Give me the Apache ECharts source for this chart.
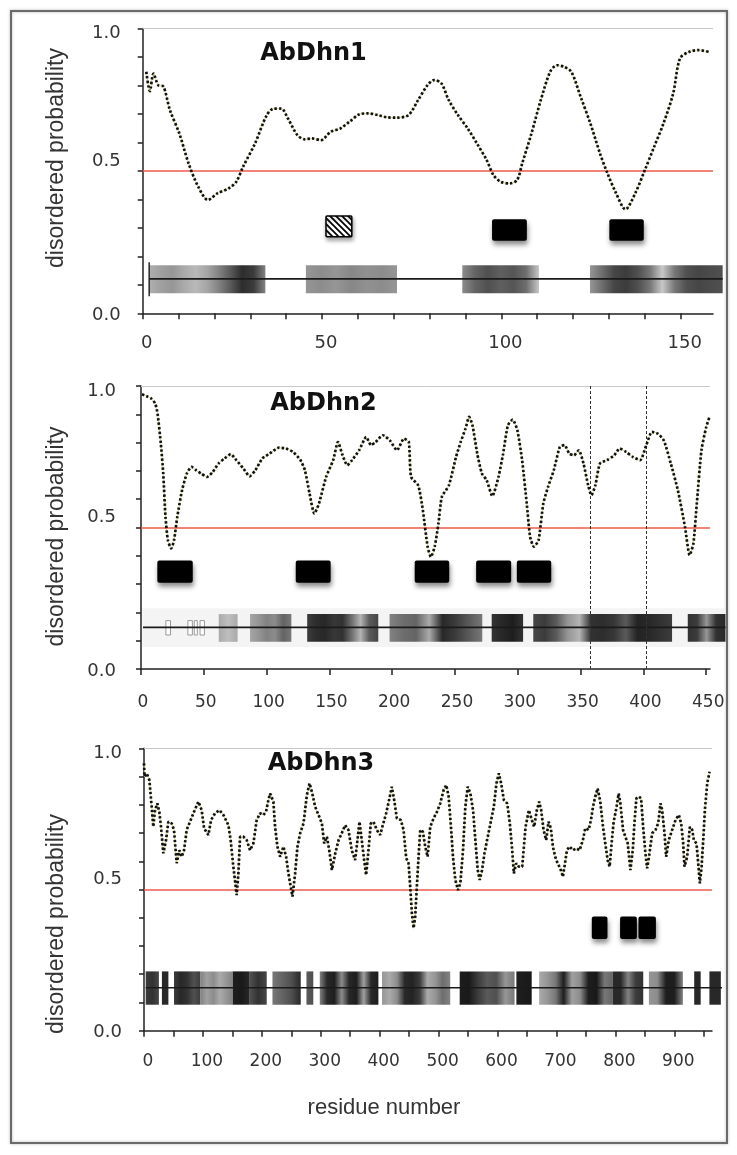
<!DOCTYPE html>
<html><head><meta charset="utf-8">
<script src="https://cdn.jsdelivr.net/npm/echarts@6/dist/echarts.min.js"></script>
<style>html,body{margin:0;padding:0;background:#fff}#c{width:737px;height:1155px}</style>
</head><body><div id="c"></div>
<script>
// ---------------- DATA ----------------
const titles = ['AbDhn1', 'AbDhn2', 'AbDhn3'];
const yTitle = 'disordered probability';
const xTitle = 'residue number';
const threshold = 0.5;

const yTicks = [0, 0.1, 0.2, 0.3, 0.4, 0.5, 0.6, 0.7, 0.8, 0.9, 1.0];
const yLabels = [0, 0.5, 1.0];
const p1XTicks = [0, 10, 20, 30, 40, 50, 60, 70, 80, 90, 100, 110, 120, 130, 140, 150];
const p1XLabels = [0, 50, 100, 150];
const p2XTicks = [0, 50, 100, 150, 200, 250, 300, 350, 400, 450];
const p2XLabels = [0, 50, 100, 150, 200, 250, 300, 350, 400, 450];
const p3XTicks = [0, 50, 100, 150, 200, 250, 300, 350, 400, 450, 500, 550, 600, 650, 700, 750, 800, 850, 900, 950];
const p3XLabels = [0, 100, 200, 300, 400, 500, 600, 700, 800, 900];
const xMax = [159, 453, 964];

const p1Curve = [[1.0,0.848],[2.0,0.78],[3.0,0.842],[4.4,0.80],[5.7,0.797],[7.6,0.713],[10.2,0.632],[12.8,0.526],[15.5,0.444],[18.2,0.398],[20.8,0.421],[24.0,0.439],[26.1,0.462],[28.0,0.515],[31.3,0.596],[34.6,0.696],[36.6,0.719],[38.6,0.719],[40.5,0.684],[43.1,0.626],[45.2,0.611],[47.1,0.614],[49.7,0.608],[52.4,0.637],[55.1,0.649],[57.7,0.673],[60.3,0.698],[62.9,0.702],[65.6,0.696],[68.2,0.688],[70.8,0.687],[74.1,0.696],[76.8,0.749],[79.4,0.801],[81.3,0.819],[83.3,0.807],[85.3,0.749],[87.9,0.696],[90.6,0.649],[93.2,0.596],[95.9,0.538],[97.8,0.485],[99.8,0.462],[102.4,0.456],[104.4,0.468],[105.8,0.526],[108.4,0.632],[111.0,0.749],[113.6,0.848],[115.5,0.871],[117.5,0.865],[119.5,0.848],[122.1,0.760],[124.8,0.667],[127.5,0.561],[129.4,0.497],[132.0,0.421],[134.6,0.365],[137.3,0.421],[140.0,0.503],[142.6,0.585],[145.2,0.667],[147.9,0.772],[149.8,0.895],[152.4,0.918],[155.0,0.924],[157.8,0.918]];

const p2Curve = [[0.8,0.971],[4.5,0.964],[8.3,0.955],[11.3,0.938],[13.2,0.902],[15.8,0.796],[17.7,0.691],[19.5,0.538],[21.4,0.455],[24,0.426],[26.3,0.455],[28.9,0.538],[32.7,0.632],[36.5,0.691],[40.2,0.714],[44,0.702],[47.7,0.691],[52.6,0.679],[57.1,0.696],[61.7,0.726],[66.5,0.744],[71.4,0.759],[75.9,0.738],[81.6,0.708],[86.5,0.681],[91,0.702],[96.6,0.744],[102.3,0.761],[109.8,0.782],[115.4,0.779],[121,0.767],[126.7,0.740],[130.5,0.702],[134.2,0.620],[138,0.549],[141.7,0.585],[147.4,0.679],[153,0.738],[156.8,0.802],[160.5,0.755],[164.3,0.720],[168,0.738],[173.7,0.773],[179.3,0.820],[183.1,0.791],[186.8,0.802],[192.5,0.826],[198.1,0.808],[203.8,0.773],[209.4,0.814],[213.2,0.802],[215,0.679],[220.7,0.649],[224.4,0.561],[228.2,0.432],[230.8,0.396],[233.8,0.432],[236.8,0.514],[239.5,0.608],[245.1,0.649],[250.8,0.749],[254.5,0.802],[258.3,0.849],[261.3,0.891],[263.9,0.861],[267.7,0.761],[271.4,0.691],[275.2,0.667],[279.7,0.611],[284.6,0.679],[288.3,0.761],[292.1,0.861],[295.9,0.881],[299.6,0.844],[303.4,0.738],[307.1,0.585],[309.8,0.467],[312.8,0.432],[316.5,0.455],[320.3,0.585],[324.1,0.644],[328.6,0.702],[333.5,0.785],[337.2,0.791],[341,0.761],[344.7,0.755],[348.5,0.773],[352.3,0.726],[356,0.649],[358.6,0.614],[361.7,0.649],[365.4,0.726],[371,0.738],[376.7,0.755],[381.2,0.779],[386.1,0.767],[391.7,0.749],[397.4,0.738],[402.3,0.791],[406.8,0.838],[411.3,0.832],[416.2,0.808],[421.8,0.726],[427.4,0.632],[433.1,0.502],[436.8,0.402],[439.8,0.444],[442.5,0.585],[446.2,0.773],[450,0.855],[452.6,0.891]];

const p3Curve = [[0,0.947],[1,0.90],[4.5,0.911],[9.1,0.888],[13,0.793],[15.8,0.722],[18.7,0.781],[22.6,0.805],[26,0.775],[28.9,0.722],[32.8,0.628],[37.4,0.675],[41.3,0.740],[47,0.734],[50.9,0.711],[55.5,0.593],[60,0.639],[64,0.616],[68,0.639],[72.4,0.711],[78.1,0.740],[84.9,0.775],[92.3,0.811],[97.9,0.781],[101.9,0.717],[109.3,0.693],[113.8,0.746],[120.6,0.770],[128,0.781],[134.7,0.764],[143.2,0.728],[147.1,0.675],[151.6,0.581],[155,0.522],[157.3,0.480],[160.2,0.557],[163,0.687],[168.6,0.687],[174.3,0.675],[180,0.639],[185.6,0.663],[191.3,0.746],[197,0.770],[202.6,0.764],[207.1,0.775],[211.1,0.817],[214,0.840],[219.6,0.811],[222.5,0.722],[226.4,0.652],[231,0.616],[236.6,0.652],[241.2,0.616],[245.1,0.557],[249,0.510],[252,0.475],[256.5,0.557],[260.5,0.652],[265,0.699],[270.7,0.734],[276.4,0.834],[280.9,0.876],[284.9,0.846],[290.5,0.793],[296.2,0.764],[301.9,0.734],[305.8,0.663],[310.4,0.687],[314.4,0.639],[318.9,0.569],[324.6,0.628],[330.2,0.675],[335.6,0.699],[341.3,0.728],[347,0.711],[352.6,0.639],[358.3,0.604],[362.3,0.675],[365.7,0.740],[369.6,0.675],[373.6,0.604],[377,0.551],[381,0.639],[384.9,0.734],[389.5,0.740],[395.1,0.711],[400.8,0.693],[405.3,0.728],[411,0.770],[416.6,0.823],[420.6,0.864],[424.6,0.817],[429.1,0.752],[435.9,0.746],[440.5,0.711],[445,0.611],[449,0.593],[451.8,0.510],[454.6,0.416],[457.5,0.363],[460.3,0.404],[463.1,0.510],[466,0.616],[468.8,0.711],[473.3,0.705],[477.3,0.652],[481.3,0.616],[485.8,0.722],[491.5,0.752],[497.2,0.775],[502.8,0.805],[508.5,0.852],[513,0.870],[517,0.829],[521,0.722],[524.4,0.616],[528.4,0.534],[532.9,0.498],[536.9,0.522],[541.4,0.639],[545.4,0.793],[549.4,0.864],[553.9,0.840],[558.5,0.781],[562.4,0.675],[566.4,0.569],[569.8,0.534],[573.8,0.569],[577.8,0.628],[582.3,0.675],[588,0.734],[593.7,0.793],[598.2,0.876],[602.2,0.911],[606.2,0.876],[610.7,0.817],[616.4,0.805],[620.9,0.734],[624.9,0.639],[627.7,0.557],[631.7,0.593],[636.2,0.581],[641.9,0.581],[647.6,0.722],[653.2,0.781],[658.2,0.746],[662.2,0.722],[666.7,0.781],[670.7,0.811],[674.1,0.781],[678.1,0.711],[682.6,0.675],[686.6,0.740],[690.5,0.717],[693.9,0.652],[697.9,0.616],[701.9,0.593],[706.4,0.575],[711,0.545],[713.8,0.540],[717.8,0.639],[722.3,0.652],[728,0.639],[733.6,0.646],[739.3,0.639],[744.9,0.675],[748.9,0.717],[754.6,0.711],[758.6,0.746],[762,0.793],[765.9,0.829],[769.9,0.858],[774.4,0.811],[779,0.722],[782.9,0.663],[786.9,0.604],[790.3,0.581],[793.1,0.652],[797.1,0.740],[801.6,0.787],[805.6,0.840],[808.5,0.805],[813,0.711],[817,0.687],[821,0.663],[825.5,0.569],[829.5,0.639],[832.3,0.734],[835.7,0.823],[839.7,0.829],[843.7,0.823],[847.1,0.722],[851,0.628],[853.9,0.575],[857.9,0.628],[862.4,0.699],[868.1,0.711],[872.6,0.734],[876.6,0.805],[879.4,0.781],[883.4,0.699],[886.2,0.616],[890.7,0.675],[896.4,0.711],[902.1,0.746],[907.7,0.764],[911.7,0.734],[915.1,0.663],[917.3,0.581],[921.9,0.616],[926.4,0.722],[930.4,0.711],[933.2,0.675],[937.7,0.663],[940.6,0.593],[943.4,0.522],[946.3,0.581],[949.1,0.675],[951.9,0.781],[955.9,0.876],[959.9,0.917]];

// domain boxes [start, end] in residues; vertical range in probability units
const p1Hatched = [[51.1, 58.3]];
const p1HatchedRange = [0.269, 0.342];
const p1Domains = [[97.4, 107.1], [130.1, 139.7]];
const p1DomainRange = [0.255, 0.330];
const p2Domains = [[13, 41.2], [123.2, 151], [217.9, 245.4], [266.8, 294.7], [299.2, 326.6]];
const p2DomainRange = [0.305, 0.383];
const p3Domains = [[760, 786.6], [808, 836.5], [839.2, 868.8]];
const p3DomainRange = [0.325, 0.404];

// grey-scale profile bands: [start, end, grey levels across the segment]
const p1Band = [0.070, 0.169, 0.121];
const p1Track = [[1.8, 161.7]];
const p1Segments = [
  [1.8, 34.2, [175,160,150,170,185,165,130,90,45,60,130]],
  [45.5, 70.9, [150,140,150,135,145,140,150]],
  [89.1, 110.5, [140,100,80,95,85,110,200]],
  [124.7, 161.7, [150,110,70,60,80,120,200,120,80,70,75,80]]
];
const p2Band = [0.096, 0.194, 0.147];
const p2BandBack = [[1, 465]];
const p2BandBackRange = [0.078, 0.215];
const p2Track = [[1.6, 465.3]];
const p2Hollow = [[19.8, 23.5], [37.3, 40.9], [42.4, 44.8], [47, 50.5]];
const p2HollowRange = [0.120, 0.171];
const p2Segments = [
  [61.9, 76.9, [170,190,170]],
  [86.8, 119.7, [165,150,130,140,100,120]],
  [132.3, 188.9, [60,45,40,55,50,110,180,90,70]],
  [197.9, 271.7, [130,110,100,170,40,60,90,120]],
  [279.2, 304.2, [50,40,30,50]],
  [312.3, 422.8, [70,60,90,150,180,50,45,55,90,35,40,50,60]],
  [435.3, 465.3, [50,60,150,50,40]]
];
const p2Marks = [357.5, 402];
const p3Band = [0.092, 0.210, 0.152];
const p3Track = [[2.9, 981]];
const p3Segments = [
  [2.9, 25.3, [60,50,70]],
  [30.4, 41.4, [40,40]],
  [50.9, 95.9, [60,40,50,80,60]],
  [95.9, 150.6, [130,160,140,170,150,130]],
  [150.6, 179.5, [30,25,40]],
  [179.5, 208.3, [80,50,70]],
  [218, 266, [120,100,80,40]],
  [275.7, 287.3, [90,80]],
  [298.3, 397.8, [130,40,30,140,40,30,160,40,30]],
  [404, 519.7, [150,170,140,40,35,60,170,150,110,130]],
  [535.8, 628.9, [30,25,60,90,80,150,120]],
  [632, 658, [30,25]],
  [670.6, 795.9, [170,150,120,30,160,140,30,25,120,100]],
  [796, 847.3, [40,40,130,60,50]],
  [856.9, 914.6, [150,140,30,30,130]],
  [933.8, 944.8, [40]],
  [959.6, 979, [40,40]]
];

// ---------------- RENDER ----------------
const grids = [
  {left: 142.7, top: 28.5, width: 570.3, height: 284.8},
  {left: 141, top: 386, width: 569, height: 283},
  {left: 144, top: 748.3, width: 568, height: 282.4}
];

const hatchCanvas = (function () {
  const c = document.createElement('canvas'); c.width = 6; c.height = 6;
  const g = c.getContext('2d');
  g.fillStyle = '#fff'; g.fillRect(0, 0, 6, 6);
  g.strokeStyle = '#000'; g.lineWidth = 1.7; g.beginPath();
  g.moveTo(-1, -1); g.lineTo(7, 7);
  g.moveTo(-1, 5); g.lineTo(1, 7);
  g.moveTo(5, -1); g.lineTo(7, 1);
  g.stroke();
  return c;
})();

function g2c(g) { return 'rgb(' + g + ',' + g + ',' + g + ')'; }

function segRender(segs, band) {
  return function (params, api) {
    const a = api.coord([api.value(0), band[1]]);
    const b = api.coord([api.value(1), band[0]]);
    const grays = segs[params.dataIndex][2];
    const n = grays.length;
    const stops = n === 1
      ? [{offset: 0, color: g2c(grays[0])}, {offset: 1, color: g2c(grays[0])}]
      : grays.map((g, i) => ({offset: i / (n - 1), color: g2c(g)}));
    return {type: 'rect', shape: {x: a[0], y: a[1], width: b[0] - a[0], height: b[1] - a[1]},
      style: {fill: new echarts.graphic.LinearGradient(0, 0, 1, 0, stops)}};
  };
}
function rectRender(range, style, r) {
  return function (params, api) {
    const a = api.coord([api.value(0), range[1]]);
    const b = api.coord([api.value(1), range[0]]);
    return {type: 'rect', shape: {x: a[0], y: a[1], width: b[0] - a[0], height: b[1] - a[1], r: r || 0}, style: style};
  };
}
function trackRender(band, bracket) {
  return function (params, api) {
    const a = api.coord([api.value(0), band[2]]);
    const b = api.coord([api.value(1), band[2]]);
    const ch = [{type: 'line', shape: {x1: a[0], y1: a[1], x2: b[0], y2: b[1]}, style: {stroke: '#1a1a1a', lineWidth: 1.6}}];
    if (bracket) {
      const t = api.coord([api.value(0), band[1] + 0.01]);
      const u = api.coord([api.value(0), band[0] - 0.01]);
      ch.push({type: 'line', shape: {x1: t[0], y1: t[1], x2: u[0], y2: u[1]}, style: {stroke: '#1a1a1a', lineWidth: 1.4}});
    }
    return {type: 'group', children: ch};
  };
}

const boxStyle = {fill: '#000', shadowBlur: 5, shadowOffsetX: 1, shadowOffsetY: 4, shadowColor: 'rgba(0,0,0,0.45)'};
const hatchStyle = {fill: {image: hatchCanvas, repeat: 'repeat'}, stroke: '#000', lineWidth: 1.5,
  shadowBlur: 4, shadowOffsetX: 1, shadowOffsetY: 3, shadowColor: 'rgba(0,0,0,0.35)'};

const axisCol = '#222';
const labelFont = 'DejaVu Sans';

const xTicksAll = [p1XTicks, p2XTicks, p3XTicks];
const xLabelsAll = [p1XLabels, p2XLabels, p3XLabels];
const xMargins = [21, 25, 22];
const xPads = [[0, 0, 0, 8], [0, 0, 0, 4], [0, 0, 0, 8]];
const xFont = [18, 17, 17];
const yMargins = [22, 25, 22];

const xAxes = [0, 1, 2].map(i => ({
  gridIndex: i, type: 'value', min: 0, max: xMax[i],
  axisLine: {show: true, lineStyle: {color: axisCol, width: 1.5}},
  axisTick: {show: true, customValues: xTicksAll[i], length: 6, lineStyle: {color: axisCol, width: 1.5}},
  axisLabel: {customValues: xLabelsAll[i], margin: xMargins[i], padding: xPads[i],
    fontFamily: labelFont, fontSize: xFont[i], color: '#333'},
  splitLine: {show: false}
}));

const richY = {
  t: {fontFamily: labelFont, fontSize: 18, color: '#333', padding: [10, 0, 0, 0]},
  m: {fontFamily: labelFont, fontSize: 18, color: '#333', padding: [0, 0, 20, 0]},
  b: {fontFamily: labelFont, fontSize: 18, color: '#333', padding: [4, 0, 0, 0]}
};
const yAxes = [0, 1, 2].map(i => ({
  gridIndex: i, type: 'value', min: 0, max: 1,
  axisLine: {show: true, lineStyle: {color: axisCol, width: 1.5}},
  axisTick: {show: true, customValues: yTicks, length: 5, lineStyle: {color: axisCol, width: 1.5}},
  axisLabel: {customValues: yLabels, margin: yMargins[i], rich: richY,
    formatter: v => v > 0.95 ? '{t|' + v.toFixed(1) + '}' : (v > 0.45 ? '{m|' + v.toFixed(1) + '}' : '{b|' + v.toFixed(1) + '}')},
  splitLine: {show: false}
}));

const curves = [p1Curve, p2Curve, p3Curve];
const smooth = [0.3, 0.2, 0];
const series = [];
curves.forEach((c, i) => {
  const marks = [
    {yAxis: threshold, lineStyle: {color: '#ee5a4a', width: 1.6, type: 'solid'}},
    {yAxis: 1.0, lineStyle: {color: '#c8c8c8', width: 1, type: 'solid'}}
  ];
  if (i === 1) p2Marks.forEach(m => marks.push({xAxis: m, lineStyle: {color: '#333', width: 1, type: [3, 2]}}));
  series.push({
    type: 'line', xAxisIndex: i, yAxisIndex: i, data: c, smooth: smooth[i], showSymbol: false, z: 4,
    lineStyle: {color: '#d9d58a', width: 1},
    markLine: {silent: true, symbol: ['none', 'none'], label: {show: false}, animation: false, data: marks}
  });
  series.push({
    type: 'line', xAxisIndex: i, yAxisIndex: i, data: c, smooth: smooth[i], showSymbol: false, z: 5,
    lineStyle: {color: '#111', width: 2.7, type: [2.4, 2.1]}
  });
});

function custom(i, data, render, z) {
  return {type: 'custom', xAxisIndex: i, yAxisIndex: i, data: data, renderItem: render, clip: false, z: z,
    encode: {x: [0, 1]}, silent: true, animation: false};
}
// panel 1
series.push(custom(0, p1Segments.map(s => [s[0], s[1]]), segRender(p1Segments, p1Band), 2));
series.push(custom(0, p1Track, trackRender(p1Band, true), 3));
series.push(custom(0, p1Hatched, rectRender(p1HatchedRange, hatchStyle, 1), 4));
series.push(custom(0, p1Domains, rectRender(p1DomainRange, boxStyle, 2), 4));
// panel 2
series.push(custom(1, p2BandBack, rectRender(p2BandBackRange, {fill: '#f4f4f4'}, 0), 1));
series.push(custom(1, p2Segments.map(s => [s[0], s[1]]), segRender(p2Segments, p2Band), 2));
series.push(custom(1, p2Hollow, rectRender(p2HollowRange, {fill: '#fff', stroke: '#9a9a9a', lineWidth: 1}, 0), 2));
series.push(custom(1, p2Track, trackRender(p2Band, false), 3));
series.push(custom(1, p2Domains, rectRender(p2DomainRange, boxStyle, 2), 4));
// panel 3
series.push(custom(2, p3Segments.map(s => [s[0], s[1]]), segRender(p3Segments, p3Band), 2));
series.push(custom(2, p3Track, trackRender(p3Band, false), 3));
series.push(custom(2, p3Domains, rectRender(p3DomainRange, boxStyle, 2), 4));

const titlePos = [[313.5, 54], [323.5, 404], [321, 764]];
const yTitlePos = [[57, 158], [57, 536.5], [57, 924]];
const graphic = [
  {type: 'rect', shape: {x: 11, y: 11, width: 716, height: 1132}, silent: true,
    style: {fill: 'none', stroke: '#6a6a6a', lineWidth: 2, shadowBlur: 3, shadowColor: 'rgba(0,0,0,0.3)'}, z: 0}
];
titles.forEach((t, i) => graphic.push({type: 'text', x: titlePos[i][0], y: titlePos[i][1], silent: true,
  style: {text: t, font: 'bold 24px "DejaVu Sans"', fill: '#111', align: 'center', verticalAlign: 'middle'}}));
yTitlePos.forEach(p => graphic.push({type: 'text', x: p[0], y: p[1], rotation: Math.PI / 2, silent: true,
  style: {text: yTitle, font: '23px "Liberation Sans"', fill: '#333', align: 'center', verticalAlign: 'middle'}}));
graphic.push({type: 'text', x: 384, y: 1108, silent: true,
  style: {text: xTitle, font: '22px "Liberation Sans"', fill: '#333', align: 'center', verticalAlign: 'middle'}});

const chart = echarts.init(document.getElementById('c'), null, {renderer: 'canvas'});
chart.setOption({
  animation: false,
  backgroundColor: '#fff',
  grid: grids.map(g => Object.assign({outerBoundsMode: 'none', containLabel: false}, g)),
  xAxis: xAxes,
  yAxis: yAxes,
  series: series,
  graphic: graphic
});
</script>
</body></html>
